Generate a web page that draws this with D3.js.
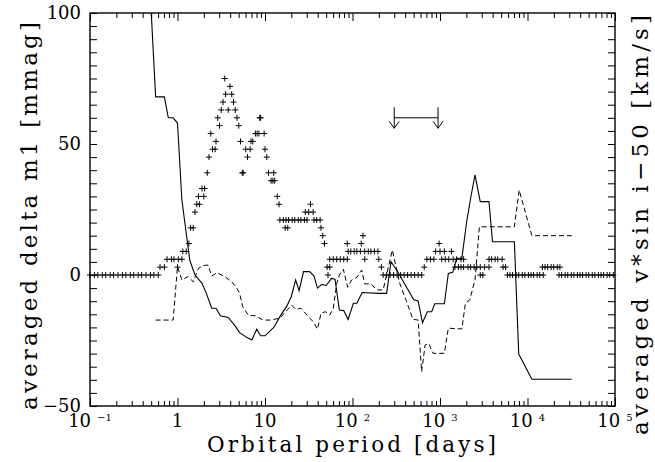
<!DOCTYPE html>
<html>
<head>
<meta charset="utf-8">
<script src="https://cdn.jsdelivr.net/npm/d3@7"></script>
<style>
body { margin: 0; background: #fff; }
svg { display: block; }
text { font-family: "DejaVu Serif", serif; fill: #000; }
</style>
</head>
<body>
<script>
// plot box is x 90..615, y 13..406 inside a 655 x 462 page
var width = 655, height = 462;
var box = {left: 90, right: 615, top: 13, bottom: 406};

// x tick labels (10 with a superscript exponent)
var xTickValues = [0.1, 1, 10, 100, 1000, 10000, 100000];
var xTickBase = ["10", "1", "10", "10", "10", "10", "10"];
var xTickSup = ["\u22121", "", "", "2", "3", "4", "5"];
var yTickValues = [-50, 0, 50, 100];
var yTickLabels = ["\u221250", "0", "50", "100"];

// "+" markers: log10(period) and averaged delta m1
var plusLogP = [
  -1.00,-0.95,-0.91,-0.86,-0.82,-0.77,-0.73,-0.68,-0.63,-0.59,-0.54,-0.50,-0.45,-0.41,-0.36,-0.31,-0.27,-0.22,
  -0.20,-0.15, -0.12,-0.07,-0.04,0.01,0.05, 0.00, 0.06,0.10, 0.13, 0.15,0.18, 0.20, 0.22,0.25, 0.24,0.30,
  0.28,0.31, 0.34, 0.36, 0.40,0.43, 0.44, 0.38, 0.48, 0.46, 0.50, 0.52, 0.55,0.62, 0.60, 0.54,
  0.58, 0.64, 0.66, 0.68, 0.70, 0.72, 0.78,0.83, 0.80, 0.74,0.75, 0.84,0.86, 0.89,0.91,0.93,0.99,
  0.94,0.95, 1.00, 1.02, 1.04,1.10, 1.07,1.09,1.11, 1.14, 1.16,
  1.17,1.21,1.24,1.27,1.31,1.34,1.38,1.41,1.45,1.48,1.56,1.59,1.63,
  1.23,1.26,1.64, 1.46,1.50,1.55, 1.52, 1.66, 1.68, 1.71,1.74, 1.72,
  1.74,1.78,1.82,1.86,1.90,1.94, 1.94,2.10, 1.95,1.98,2.02,2.05,2.09, 2.12,
  2.14,2.18,2.21,2.25,2.29, 2.14,2.30, 2.33,
  2.35,2.39,2.43,2.47,2.51,2.55,2.59,2.63,2.67,2.71,2.75,2.79, 2.82, 2.85,2.89,2.93,
  2.99, 2.95,3.00,3.05,3.13, 3.02,3.06,3.10,3.15,3.19,3.24,3.27,
  3.17,3.21,3.24,3.27,3.32,3.35,3.39,3.42,3.46,3.51,3.56, 3.46,3.49,
  3.56,3.59,3.63,3.66,3.71, 3.72,3.75,
  3.77,3.80,3.83,3.87,3.90,3.94,3.97,4.01,4.04,4.07,4.11,4.14,4.18,
  4.17,4.20,4.23,4.27,4.30,4.34,4.37,
  4.36,4.39,4.43,4.46,4.50,4.53,4.57,4.60,4.63,4.67,4.70,4.74,4.77,4.81,4.84,4.87,4.91,4.94,4.98
];
var plusVal = [
  0,0,0,0,0,0,0,0,0,0,0,0,0,0,0,0,0,0,
  3,3, 6,6,6,6,6, 3, 9,9, 12, 18,18, 24, 27,27, 30,30,
  33,33, 39, 45, 48,48, 51, 54, 57, 60, 63, 66, 69,69, 72, 75,
  63, 66, 63, 60, 57, 51, 48,48, 45, 39,39, 51,51, 54,54,54,54,
  60,60, 48, 45, 39,39, 36,36,36, 30, 27,
  21,21,21,21,21,21,21,21,21,21,21,21,21,
  18,18,18, 24,24,24, 27, 15, 12, 3,3, 0,
  6,6,6,6,6,6, 12,12, 9,9,9,9,9, 15,
  9,9,9,9,9, 6,6, 3,
  0,0,0,0,0,0,0,0,0,0,0,0, 3, 6,6,6,
  12, 9,9,9,9, 6,6,6,6,6,6,6,
  3,3,3,3,3,3,3,3,3,3,3, 0,0,
  6,6,6,6,6, 3,3,
  0,0,0,0,0,0,0,0,0,0,0,0,0,
  3,3,3,3,3,3,3,
  0,0,0,0,0,0,0,0,0,0,0,0,0,0,0,0,0,0,0
];

// solid curve
var solidLogP = [-0.30,-0.25,-0.15,-0.105,-0.05,0.00,0.05,0.09,0.14,0.20,0.28,0.33,0.39,0.44,0.49,
  0.58,0.66,0.71,0.79,0.85,0.905,0.95,1.00,1.10,1.17,1.25,1.30,1.35,1.39,1.44,1.51,1.56,1.60,1.65,
  1.70,1.76,1.80,1.85,1.90,1.95,2.01,2.05,2.11,2.30,2.39,2.44,2.505,2.70,2.75,2.80,2.855,2.905,
  2.94,3.05,3.095,3.145,3.19,3.25,3.305,3.35,3.40,3.46,3.56,3.60,3.85,3.90,4.05,4.505];
var solidVal = [100,68,68,60,60,58,28.6,18.4,5.7,0,-3.2,-7,-12.7,-12.7,-15.6,
  -16.2,-19.5,-22,-23.8,-24.8,-20.7,-23.2,-23.2,-20,-15.9,-11.8,-8.3,-1.9,-6,1.3,1.3,-0.4,-5,-3.6,
  -4,-1.3,-1.6,-13.4,-13.6,-17,-10.8,-10.8,-6.7,-7,-7,5.1,1.9,-9.5,-9.9,-18.2,-14,-14,
  -11,-11,0.6,1,6.4,6.4,20.4,29.3,38.2,28,28,12.7,12.7,-30.2,-39.8,-39.8];

// dashed curve
var dashLogP = [-0.25,-0.05,0.00,0.05,0.12,0.18,0.24,0.295,0.35,0.39,0.45,0.54,0.62,0.68,0.71,0.745,
  0.81,0.89,0.98,1.06,1.17,1.23,1.305,1.35,1.41,1.48,1.55,1.60,1.64,1.69,1.74,1.78,1.82,1.85,
  1.895,1.945,1.99,2.05,2.105,2.14,2.21,2.28,2.35,2.455,2.54,2.61,2.66,2.69,2.75,2.79,2.83,2.87,
  2.92,3.05,3.095,3.25,3.29,3.34,3.40,3.45,3.85,3.905,4.05,4.505];
var dashVal = [-17.2,-17.2,3.2,-1.9,-0.6,-2.6,2.6,3.6,3.8,-0.4,0.9,-0.6,-2.6,-5.1,-7,-12.1,
  -15.3,-15.6,-17.2,-17.2,-16.5,-14.2,-11.5,-13.1,-12.7,-15.3,-17.8,-20.7,-14.6,-14,-15.3,-12.7,-3.2,0,
  2.2,-4.7,-1.9,-0.9,1.9,-3.4,-3.4,-5.7,-5.7,9.5,-3.2,-9.5,-14,-16.9,-17.2,-36.9,-26.7,-26.1,
  -29.9,-29.9,-20.3,-20.6,-10.8,-9.5,-1.9,18.4,18.4,32.4,15,15];

// bracket with two downward arrows: periods in days, delta m1 levels
var arrowPeriods = [300, 950];
var arrowLevels = {top: 64, bar: 60, tip: 56};

var svg = d3.select("body").append("svg")
    .attr("width", width)
    .attr("height", height);

svg.append("rect").attr("width", width).attr("height", height).attr("fill", "#fff");

var x = d3.scaleLog().domain([0.1, 1e5]).range([box.left, box.right]);
var y = d3.scaleLinear().domain([-50, 100]).range([box.bottom, box.top]);

function px(lp) { return x(Math.pow(10, lp)); }

// ticks
var minorX = [];
for (var e = -1; e < 5; e++) {
    for (var k = 2; k <= 9; k++) minorX.push(k * Math.pow(10, e));
}
var yTicks = d3.range(-50, 101, 5);

function noDomain(g) { g.select(".domain").remove(); g.selectAll("text").remove(); }

var axes = svg.append("g").attr("class", "axes");

axes.append("g").attr("transform", "translate(0," + box.bottom + ")")
    .call(d3.axisTop(x).tickValues(xTickValues).tickSize(8).tickSizeOuter(0)).call(noDomain);
axes.append("g").attr("transform", "translate(0," + box.bottom + ")")
    .call(d3.axisTop(x).tickValues(minorX).tickSize(5).tickSizeOuter(0)).call(noDomain);
axes.append("g").attr("transform", "translate(0," + box.top + ")")
    .call(d3.axisBottom(x).tickValues(xTickValues).tickSize(8).tickSizeOuter(0)).call(noDomain);
axes.append("g").attr("transform", "translate(0," + box.top + ")")
    .call(d3.axisBottom(x).tickValues(minorX).tickSize(5).tickSizeOuter(0)).call(noDomain);
axes.append("g").attr("transform", "translate(" + box.left + ",0)")
    .call(d3.axisRight(y).tickValues(yTicks).tickSize(7).tickSizeOuter(0)).call(noDomain);
axes.append("g").attr("transform", "translate(" + box.right + ",0)")
    .call(d3.axisLeft(y).tickValues(yTicks).tickSize(7).tickSizeOuter(0)).call(noDomain);

axes.selectAll("line").attr("stroke", "#000").attr("stroke-width", 1);

axes.append("rect")
    .attr("x", box.left).attr("y", box.top)
    .attr("width", box.right - box.left).attr("height", box.bottom - box.top)
    .attr("fill", "none").attr("stroke", "#000").attr("stroke-width", 1.4);

// tick labels
var xl = svg.append("g").selectAll("text").data(xTickValues).enter().append("text")
    .attr("x", function(d) { return x(d); })
    .attr("y", 427)
    .attr("text-anchor", "middle")
    .style("font-size", "18px");
xl.append("tspan").text(function(d, i) { return xTickBase[i]; });
xl.append("tspan")
    .attr("dx", function(d, i) { return xTickSup[i] ? 6 : 0; })
    .attr("dy", -6)
    .style("font-size", "10px")
    .text(function(d, i) { return xTickSup[i]; });

svg.append("g").selectAll("text").data(yTickValues).enter().append("text")
    .attr("x", 81)
    .attr("y", function(d) { return y(d); })
    .attr("dy", "0.36em")
    .attr("text-anchor", "end")
    .style("font-size", "18px")
    .text(function(d, i) { return yTickLabels[i]; });

// titles
svg.append("text")
    .attr("x", 351.5).attr("y", 451.5)
    .attr("text-anchor", "middle")
    .attr("textLength", 289).attr("lengthAdjust", "spacing")
    .style("font-size", "21.5px")
    .text("Orbital period [days]");

svg.append("text")
    .attr("transform", "translate(37,216) rotate(-90)")
    .attr("text-anchor", "middle")
    .attr("textLength", 388).attr("lengthAdjust", "spacing")
    .style("font-size", "23px")
    .text("averaged delta m1 [mmag]");

svg.append("text")
    .attr("transform", "translate(648,225) rotate(-90)")
    .attr("text-anchor", "middle")
    .attr("textLength", 420).attr("lengthAdjust", "spacing")
    .style("font-size", "23px")
    .text("averaged v*sin i\u221250 [km/s]");

// curves
var line = d3.line()
    .x(function(d) { return px(d[0]); })
    .y(function(d) { return y(d[1]); });

svg.append("path")
    .datum(d3.zip(solidLogP, solidVal))
    .attr("d", line)
    .attr("fill", "none").attr("stroke", "#000").attr("stroke-width", 1.1);

svg.append("path")
    .datum(d3.zip(dashLogP, dashVal))
    .attr("d", line)
    .attr("fill", "none").attr("stroke", "#000").attr("stroke-width", 1)
    .attr("stroke-dasharray", "5,3");

// plus markers
svg.append("g").selectAll("path").data(d3.zip(plusLogP, plusVal)).enter().append("path")
    .attr("transform", function(d) { return "translate(" + px(d[0]) + "," + y(d[1]) + ")"; })
    .attr("d", "M-3,0H3M0,-3V3")
    .attr("stroke", "#000").attr("stroke-width", 1);

// arrows
var ar = svg.append("g").attr("stroke", "#000").attr("fill", "none").attr("stroke-width", 1);
ar.append("line")
    .attr("x1", x(arrowPeriods[0])).attr("x2", x(arrowPeriods[1]))
    .attr("y1", y(arrowLevels.bar)).attr("y2", y(arrowLevels.bar));
arrowPeriods.forEach(function(p) {
    var ax = x(p), ty = y(arrowLevels.tip);
    ar.append("line").attr("x1", ax).attr("x2", ax)
        .attr("y1", y(arrowLevels.top)).attr("y2", ty);
    ar.append("path").attr("d", "M" + (ax - 5) + "," + (ty - 7) + "L" + ax + "," + ty + "L" + (ax + 5) + "," + (ty - 7));
});
</script>
</body>
</html>
